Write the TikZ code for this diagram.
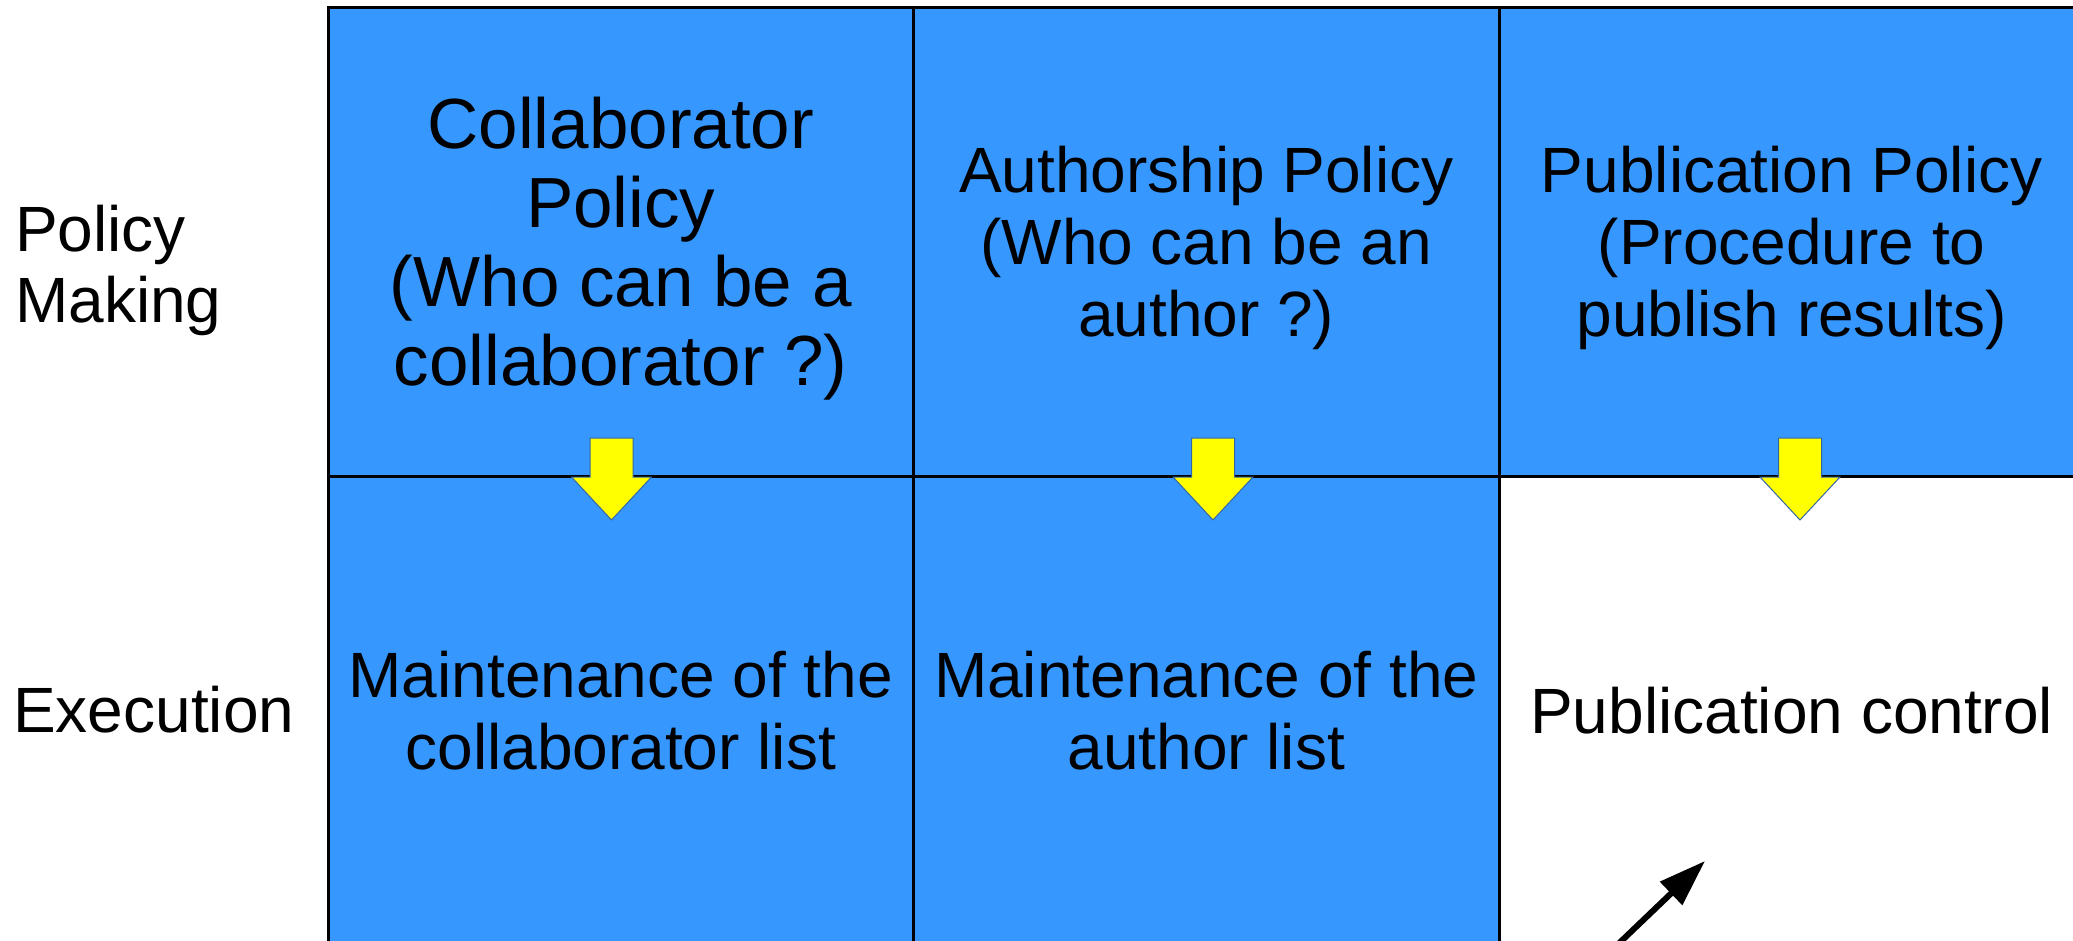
\documentclass[tikz,border=0pt]{standalone}
\usepackage{fontspec}
\setmainfont{Liberation Sans}
\usetikzlibrary{arrows.meta}
\definecolor{cellblue}{RGB}{54,151,255}
\definecolor{arrowedge}{RGB}{52,101,164}
\definecolor{arrowfill}{RGB}{255,255,0}
\begin{document}
\begin{tikzpicture}[x=1pt,y=-1pt,
  cell/.style={draw=black, line width=3pt, fill=cellblue, minimum width=585.5pt, minimum height=468pt, inner sep=0pt, outer sep=0pt, anchor=north west},
  whitecell/.style={cell, fill=white},
  txt/.style={font=\fontsize{64}{72}\selectfont, align=center, inner sep=0pt, anchor=base},
  bigtxt/.style={font=\fontsize{71}{79}\selectfont, align=center, inner sep=0pt, anchor=base},
  lefttxt/.style={font=\fontsize{64}{71}\selectfont, align=left, inner sep=0pt, anchor=base west},
  yarrow/.style={fill=arrowfill, draw=arrowedge, line width=1pt, line join=miter},
  downarrow/.pic={\path[yarrow] (-21.5,-39) -- (21.5,-39) -- (21.5,0) -- (40,0) -- (0,43) -- (-40,0) -- (-21.5,0) -- cycle;},
  blackarrow/.style={line width=6pt, -{Triangle[length=47pt,width=31pt]}}
]
\useasboundingbox (0,0) rectangle (2073,941);
\clip (0,0) rectangle (2073,941);
\fill[white] (0,0) rectangle (2073,941);

% grid cells
\node[cell] (c11) at (328,8) {};
\node[cell] (c12) at (913.5,8) {};
\node[cell] (c13) at (1499,8) {};
\node[cell] (c21) at (328,476) {};
\node[cell] (c22) at (913.5,476) {};
\node[whitecell] (c23) at (1499,476) {};

% row labels (anchor = baseline of last line)
\node[lefttxt] (lpol) at (15,323) {Policy\\Making};
\node[lefttxt] (lexe) at (13,732) {Execution};

% cell texts (anchor = baseline of last line)
\node[bigtxt] (t11) at (620.75,385) {Collaborator\\Policy\\(Who can be a\\collaborator ?)};
\node[txt] (t12) at (1206.25,337) {Authorship Policy\\(Who can be an\\author ?)};
\node[txt] (t13) at (1791.75,337) {Publication Policy\\(Procedure to\\publish results)};
\node[txt] (t21) at (620.75,769) {Maintenance of the\\collaborator list};
\node[txt] (t22) at (1206.25,769) {Maintenance of the\\author list};
\node[txt] (t23) at (1791.75,733) {Publication control};

% yellow arrows
\pic at (611.5,477) {downarrow};
\pic at (1213,477) {downarrow};
\pic at (1800,477) {downarrow};

% black arrow
\coordinate (bstart) at (1590,971);
\coordinate (btip) at (1705,861);
\draw[blackarrow] (bstart) -- (btip);
\end{tikzpicture}
\end{document}
